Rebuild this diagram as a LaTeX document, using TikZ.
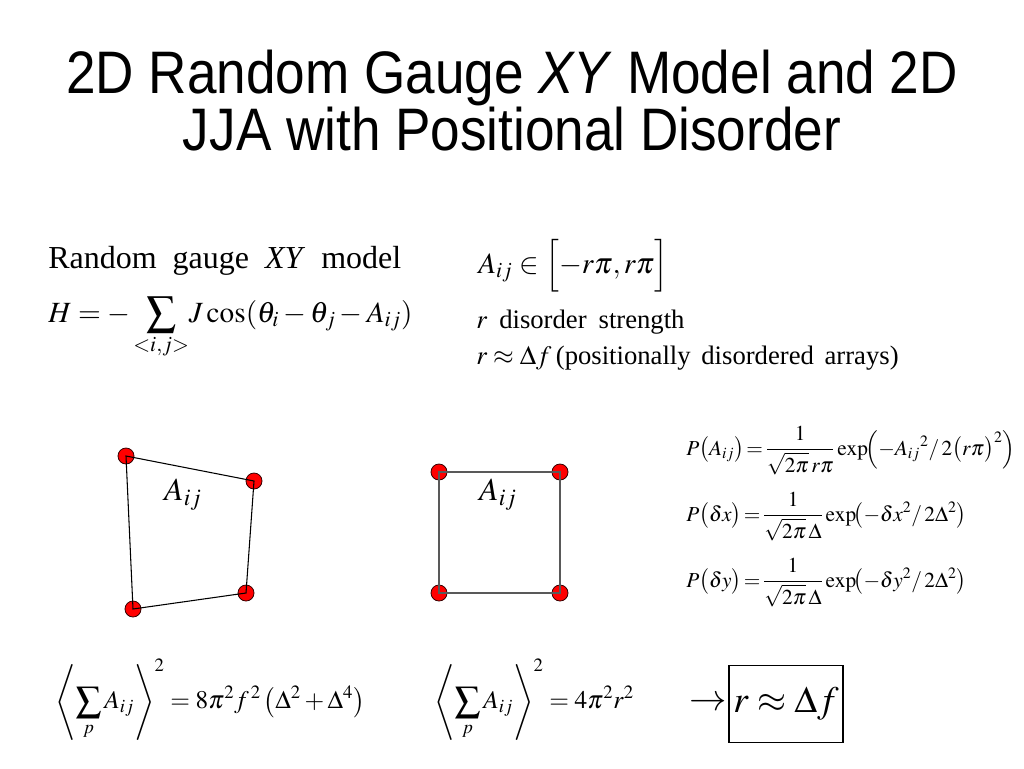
\documentclass[tikz,border=0pt]{standalone}
\usepackage{mathptmx}
\usepackage{fontspec}
\setmainfont{Liberation Serif}
\newfontfamily\titlefont[FakeStretch=0.885]{Liberation Sans}
\begin{document}
\begin{tikzpicture}[x=0.75pt,y=-0.75pt,
  ttl/.style={font=\titlefont\fontsize{45}{50}\selectfont, inner sep=0pt},
  txt/.style={font=\fontsize{24}{28}\selectfont, inner sep=0pt},
  htxt/.style={font=\fontsize{22}{26}\selectfont, inner sep=0pt},
  stxt/.style={font=\fontsize{20}{24}\selectfont, inner sep=0pt},
  frm/.style={font=\fontsize{16}{19}\selectfont, inner sep=0pt},
  bfrm/.style={font=\fontsize{19}{23}\selectfont, inner sep=0pt},
  dot/.style={circle, fill=red, draw=black!80!red, line width=0.6pt, minimum size=12pt, inner sep=0pt},
  quadline/.style={draw=black, line width=0.8pt},
  sqline/.style={draw=black!65, line width=1pt}]
\useasboundingbox (0,0) rectangle (1024,768);
\fill[white] (0,0) rectangle (1024,768);
% title
\node[ttl, anchor=base] (t1) at (512,93) {2D Random Gauge \textit{XY} Model and 2D};
\node[ttl, anchor=base] (t2) at (512,150) {JJA with Positional Disorder};
% left text
\node[txt, anchor=base west] (rg) at (48,268) {Random\hspace{0.5em}gauge\hspace{0.5em}\textit{XY}\hspace{0.5em}model};
\node[htxt, anchor=base west] (ham) at (48,322) {$\displaystyle H=-\sum_{<i,j>}\! J\cos\!\left(\theta_i-\theta_j-A_{ij}\right)$};
% right text
\node[htxt, anchor=base west] (aij) at (478,273) {$A_{ij}\in\Bigl[-r\pi,r\pi\Bigr]$};
\node[stxt, anchor=base west] (ds) at (476,328) {$r$\hspace{0.45em}disorder\hspace{0.45em}strength};
\node[stxt, anchor=base west] (rf) at (476,364) {$r\approx\Delta f$\,(positionally\hspace{0.4em}disordered\hspace{0.4em}arrays)};
% distorted plaquette
\node[dot] (q1) at (126,456) {};
\node[dot] (q2) at (254,481) {};
\node[dot] (q3) at (246,593) {};
\node[dot] (q4) at (133,609) {};
\draw[quadline] (q1.center) -- (q2.center) -- (q3.center) -- (q4.center) -- cycle;
\node[txt] (la) at (183,495) {$A_{ij}$};
% square plaquette
\node[dot] (s1) at (439,472) {};
\node[dot] (s2) at (560,472) {};
\node[dot] (s3) at (560,593) {};
\node[dot] (s4) at (439,593) {};
\draw[sqline] (s1.center) -- (s2.center) -- (s3.center) -- (s4.center) -- cycle;
\node[txt] (ra) at (498,495) {$A_{ij}$};
% distributions
\node[frm, anchor=base west] (pa) at (686,455) {$\displaystyle P\bigl(A_{ij}\bigr)\!=\!\frac{1}{\sqrt{2\pi}\,r\pi}\exp\!\Bigl(-A_{ij}{}^{2}/\,2\bigl(r\pi\bigr)^{2}\Bigr)$};
\node[frm, anchor=base west] (px) at (686,521) {$\displaystyle P\bigl(\delta x\bigr)\!=\!\frac{1}{\sqrt{2\pi}\,\Delta}\exp\!\bigl(-\delta x^{2}/\,2\Delta^{2}\bigr)$};
\node[frm, anchor=base west] (py) at (686,587) {$\displaystyle P\bigl(\delta y\bigr)\!=\!\frac{1}{\sqrt{2\pi}\,\Delta}\exp\!\bigl(-\delta y^{2}/\,2\Delta^{2}\bigr)$};
% bottom formulas
\node[bfrm, anchor=west] (f1) at (55,700) {$\displaystyle \left\langle\sum_{p}A_{ij}\right\rangle^{2}=8\pi^{2}f^{\,2}\left(\Delta^{2}+\Delta^{4}\right)$};
\node[bfrm, anchor=west] (f2) at (434,700) {$\displaystyle \left\langle\sum_{p}A_{ij}\right\rangle^{2}=4\pi^{2}r^{2}$};
% conclusion
\node[draw=black, line width=0.8pt, minimum width=85.5pt, minimum height=58pt, inner sep=0pt,
      font=\fontsize{28}{32}\selectfont] (box) at (786,704) {$r\approx\Delta f$};
\node[font=\fontsize{28}{32}\selectfont, inner sep=1pt, anchor=east] (arr) at (box.west) {$\rightarrow$};
\end{tikzpicture}
\end{document}
